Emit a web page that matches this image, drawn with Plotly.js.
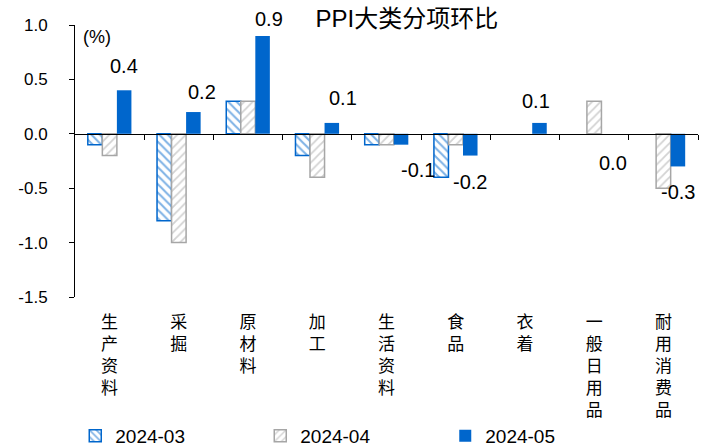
<!DOCTYPE html>
<html>
<head>
<meta charset="utf-8">
<script src="https://cdn.plot.ly/plotly-3.0.1.min.js"></script>
<style>html,body{margin:0;padding:0;background:#fff;}#chart{width:710px;height:443px;}</style>
</head>
<body>
<div id="chart"></div>
<script>
// ---- data ----
const categories = ["生产资料", "采掘", "原材料", "加工", "生活资料", "食品", "衣着", "一般日用品", "耐用消费品"];
const seriesNames = ["2024-03", "2024-04", "2024-05"];
const mar2024 = [-0.1, -0.8, 0.3, -0.2, -0.1, -0.4, 0.0, 0.0, 0.0];
const apr2024 = [-0.2, -1.0, 0.3, -0.4, -0.1, -0.1, 0.0, 0.3, -0.5];
const may2024 = [0.4, 0.2, 0.9, 0.1, -0.1, -0.2, 0.1, 0.0, -0.3];
const yTickVals = [-1.5, -1.0, -0.5, 0.0, 0.5, 1.0];

// ---- style ----
const BLUE = "#0066CC";
const GRAY = "#A6A6A6";
const LAT = "Liberation Sans, Arial, Noto Sans CJK SC, sans-serif";
const CJK = "Noto Sans CJK SC, sans-serif";
// label nudges [dx, dy] in px for the 2024-05 value labels
const labelNudge = [[0, 24], [9, 20], [6, 17], [11, 25], [17, -25], [0, -26], [-3, 22], [4, -29], [0, -26]];

const idx = categories.map((_, i) => i);
const tickText = categories.map(c => c.split("").join("<br>"));
const lw = arr => arr.map(v => (v === 0 ? 0 : 1.5));

const traces = [
  {
    type: "bar", name: seriesNames[0], x: idx, y: mar2024,
    marker: { color: "#ffffff", line: { color: BLUE, width: lw(mar2024) },
      pattern: { shape: "\\", fgcolor: BLUE, bgcolor: "#ffffff", size: 6, solidity: 0.35, fillmode: "overlay" } }
  },
  {
    type: "bar", name: seriesNames[1], x: idx, y: apr2024,
    marker: { color: "#ffffff", line: { color: GRAY, width: lw(apr2024) },
      pattern: { shape: "/", fgcolor: GRAY, bgcolor: "#ffffff", size: 6, solidity: 0.3, fillmode: "overlay" } }
  },
  {
    type: "bar", name: seriesNames[2], x: idx, y: may2024,
    marker: { color: BLUE, line: { color: BLUE, width: 0 } }
  }
];

const plotW = 710 - 75 - 12;
const barPx = plotW / categories.length * (1 - 0.37) / 3;

const annotations = may2024.map((v, i) => ({
  x: i, y: v, xref: "x", yref: "y", text: v.toFixed(1), showarrow: false,
  xshift: barPx + labelNudge[i][0], yshift: labelNudge[i][1],
  font: { family: LAT, size: 20, color: "#000" }
}));
annotations.push({
  xref: "paper", yref: "paper", x: 0.01, y: 0.956, xanchor: "left", yanchor: "middle",
  text: "(%)", showarrow: false, font: { family: LAT, size: 18, color: "#000" }
});

const layout = {
  width: 710, height: 443,
  margin: { l: 75, r: 12, t: 25, b: 146 },
  paper_bgcolor: "#fff", plot_bgcolor: "#fff",
  showlegend: true,
  barmode: "group", bargap: 0.37, bargroupgap: 0,
  title: { text: "PPI大类分项环比", xref: "container", x: 0.573, xanchor: "center",
    yref: "container", y: 0.957, yanchor: "middle",
    font: { family: LAT, size: 24, color: "#000" } },
  xaxis: {
    type: "linear", range: [-0.5, categories.length - 0.5],
    tickmode: "array", tickvals: idx, ticktext: tickText,
    showline: false, showgrid: false, zeroline: false, ticks: "",
    tickangle: 0, ticklabelstandoff: 13,
    tickfont: { family: CJK, size: 17, color: "#000" }
  },
  xaxis2: {
    overlaying: "x", anchor: "free", position: 0.6, side: "bottom",
    type: "linear", range: [-0.5, categories.length - 0.5],
    tickmode: "array", tickvals: idx.map(i => i + 0.5),
    showticklabels: false, showline: true, linecolor: "#000", linewidth: 1,
    ticks: "outside", ticklen: 5, tickcolor: "#000", tickwidth: 1,
    showgrid: false, zeroline: false
  },
  yaxis: {
    range: [-1.5, 1.0], tickmode: "array", tickvals: yTickVals,
    ticktext: yTickVals.map(v => v.toFixed(1)),
    showline: true, linecolor: "#000", linewidth: 1,
    ticks: "outside", ticklen: 5, tickcolor: "#000",
    showgrid: false, zeroline: false, ticklabelstandoff: 18,
    tickfont: { family: LAT, size: 17, color: "#000" }
  },
  legend: {
    orientation: "h", xref: "container", yref: "container",
    x: 0.106, y: 0.016, xanchor: "left", yanchor: "middle",
    entrywidth: 140, entrywidthmode: "pixels",
    bgcolor: "rgba(0,0,0,0)",
    font: { family: LAT, size: 19, color: "#000" },
    itemwidth: 30, tracegroupgap: 0
  },
  annotations: annotations
};

// empty trace to register xaxis2
traces.push({ type: "scatter", x: [], y: [], xaxis: "x2", yaxis: "y", showlegend: false, hoverinfo: "skip" });

Plotly.newPlot("chart", traces, layout, { staticPlot: true, displayModeBar: false });
</script>
</body>
</html>
